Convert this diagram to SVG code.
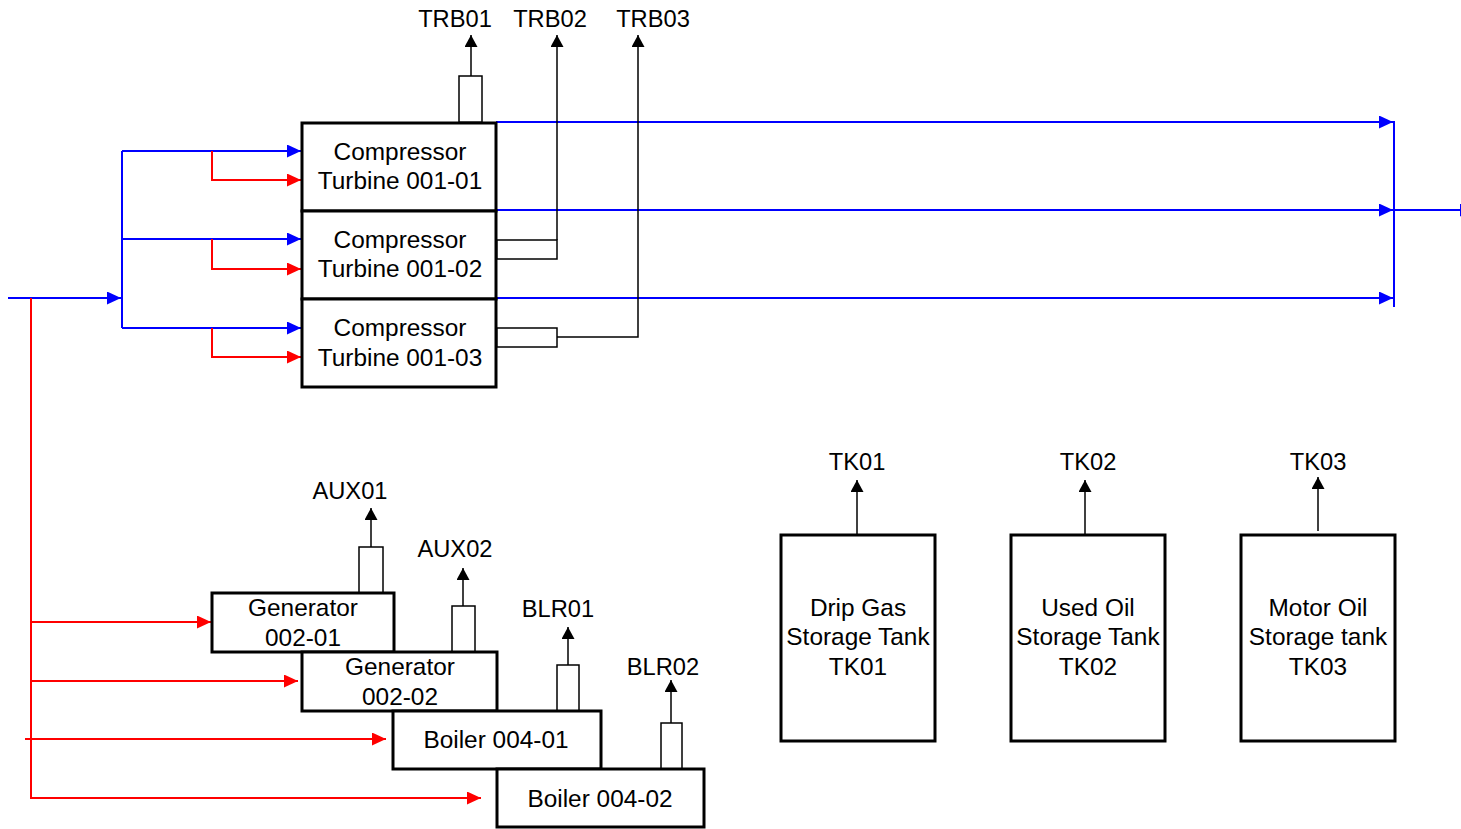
<svg xmlns="http://www.w3.org/2000/svg" width="1461" height="829" viewBox="0 0 1461 829">
<style>
.box{fill:#fff;stroke:#000;stroke-width:3}
.stack{fill:#fff;stroke:#000;stroke-width:1.5}
.t{font-family:"Liberation Sans",Arial,sans-serif;font-size:24.4px;fill:#000;text-anchor:middle}
.l{font-family:"Liberation Sans",Arial,sans-serif;font-size:23.7px;fill:#000;text-anchor:middle}
.b{fill:none;stroke:#0000ff;stroke-width:2}
.r{fill:none;stroke:#ff0000;stroke-width:2}
.k{fill:none;stroke:#000;stroke-width:1.5}
</style>
<defs>
<marker id="ab" markerUnits="userSpaceOnUse" markerWidth="14" markerHeight="13" refX="14" refY="6.5" orient="auto"><path d="M0,0 L14,6.5 L0,13 z" fill="#0000ff"/></marker>
<marker id="ar" markerUnits="userSpaceOnUse" markerWidth="14" markerHeight="13" refX="14" refY="6.5" orient="auto"><path d="M0,0 L14,6.5 L0,13 z" fill="#ff0000"/></marker>
<marker id="ak" markerUnits="userSpaceOnUse" markerWidth="12" markerHeight="13" refX="12" refY="6.5" orient="auto"><path d="M0,0 L12,6.5 L0,13 z" fill="#000"/></marker>
</defs>
<g id="connectors">
<path class="b" d="M8,298 H121" marker-end="url(#ab)"/>
<path class="b" d="M122,151 V328"/>
<path class="b" d="M122,151 H301" marker-end="url(#ab)"/>
<path class="b" d="M122,239 H301" marker-end="url(#ab)"/>
<path class="b" d="M122,328 H301" marker-end="url(#ab)"/>
<path class="b" d="M496,122 H1393" marker-end="url(#ab)"/>
<path class="b" d="M496,210 H1393" marker-end="url(#ab)"/>
<path class="b" d="M496,298 H1393" marker-end="url(#ab)"/>
<path class="b" d="M1394,121 V307"/>
<path class="b" d="M1394,210 H1474" marker-end="url(#ab)"/>
<path class="r" d="M212,151 V180 H301" marker-end="url(#ar)"/>
<path class="r" d="M212,239 V269 H301" marker-end="url(#ar)"/>
<path class="r" d="M212,328 V357 H301" marker-end="url(#ar)"/>
<path class="r" d="M31,298 V798 H481" marker-end="url(#ar)"/>
<path class="r" d="M31,622 H211" marker-end="url(#ar)"/>
<path class="r" d="M31,681 H298" marker-end="url(#ar)"/>
<path class="r" d="M25,739 H386" marker-end="url(#ar)"/>
<path class="k" d="M471,76 V35" marker-end="url(#ak)"/>
<path class="k" d="M557,240 V35" marker-end="url(#ak)"/>
<path class="k" d="M557,337 H638 V35" marker-end="url(#ak)"/>
<path class="k" d="M371,547 V508" marker-end="url(#ak)"/>
<path class="k" d="M463,606 V568" marker-end="url(#ak)"/>
<path class="k" d="M568,665 V627" marker-end="url(#ak)"/>
<path class="k" d="M671,723 V680" marker-end="url(#ak)"/>
<path class="k" d="M857,535 V480" marker-end="url(#ak)"/>
<path class="k" d="M1085,535 V480" marker-end="url(#ak)"/>
<path class="k" d="M1318,531 V477" marker-end="url(#ak)"/>
</g>
<g id="ct1"><rect class="box" x="302" y="123" width="194" height="88"/><rect class="stack" x="459" y="76" width="23" height="46"/><text class="t" x="400" y="160">Compressor</text><text class="t" x="400" y="189">Turbine 001-01</text></g>
<g id="ct2"><rect class="box" x="302" y="211" width="194" height="88"/><rect class="stack" x="497" y="240" width="60" height="19"/><text class="t" x="400" y="248">Compressor</text><text class="t" x="400" y="277">Turbine 001-02</text></g>
<g id="ct3"><rect class="box" x="302" y="299" width="194" height="88"/><rect class="stack" x="497" y="328" width="60" height="19"/><text class="t" x="400" y="336">Compressor</text><text class="t" x="400" y="366">Turbine 001-03</text></g>
<g id="lbl-trb"><text class="l" x="455" y="27">TRB01</text><text class="l" x="550" y="27">TRB02</text><text class="l" x="653" y="27">TRB03</text></g>
<g id="gen1"><rect class="stack" x="359" y="547" width="24" height="46"/><rect class="box" x="212" y="593" width="182" height="59"/><text class="t" x="303" y="616">Generator</text><text class="t" x="303" y="646">002-01</text><text class="l" x="350" y="499">AUX01</text></g>
<g id="gen2"><rect class="stack" x="452" y="606" width="23" height="46"/><rect class="box" x="302" y="652" width="195" height="59"/><text class="t" x="400" y="675">Generator</text><text class="t" x="400" y="705">002-02</text><text class="l" x="455" y="557">AUX02</text></g>
<g id="blr1"><rect class="stack" x="557" y="665" width="22" height="46"/><rect class="box" x="393" y="711" width="208" height="58"/><text class="t" x="496" y="748">Boiler 004-01</text><text class="l" x="558" y="617">BLR01</text></g>
<g id="blr2"><rect class="stack" x="661" y="723" width="21" height="46"/><rect class="box" x="497" y="769" width="207" height="58"/><text class="t" x="600" y="807">Boiler 004-02</text><text class="l" x="663" y="675">BLR02</text></g>
<g id="tk1"><rect class="box" x="781" y="535" width="154" height="206"/><text class="t" x="858" y="616">Drip Gas</text><text class="t" x="858" y="645">Storage Tank</text><text class="t" x="858" y="675">TK01</text><text class="l" x="857" y="470">TK01</text></g>
<g id="tk2"><rect class="box" x="1011" y="535" width="154" height="206"/><text class="t" x="1088" y="616">Used Oil</text><text class="t" x="1088" y="645">Storage Tank</text><text class="t" x="1088" y="675">TK02</text><text class="l" x="1088" y="470">TK02</text></g>
<g id="tk3"><rect class="box" x="1241" y="535" width="154" height="206"/><text class="t" x="1318" y="616">Motor Oil</text><text class="t" x="1318" y="645">Storage tank</text><text class="t" x="1318" y="675">TK03</text><text class="l" x="1318" y="470">TK03</text></g>
</svg>
